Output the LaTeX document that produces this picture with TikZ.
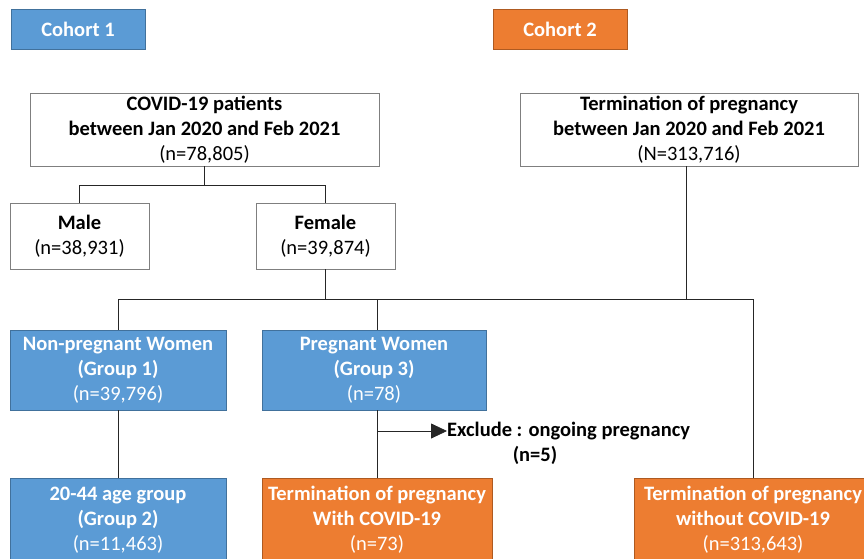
\documentclass[tikz,border=0pt]{standalone}
\usepackage{fontspec}
\setmainfont{Carlito}
\usetikzlibrary{arrows.meta}
\definecolor{cblue}{HTML}{5B9BD5}
\definecolor{cblueb}{HTML}{41719C}
\definecolor{corange}{HTML}{ED7D31}
\definecolor{corangeb}{HTML}{AE5A21}
\definecolor{gborder}{HTML}{7F7F7F}
\begin{document}
\begin{tikzpicture}[x=1pt,y=-1pt,
  box/.style={rectangle,inner sep=0pt,align=center,font=\fontsize{20.5}{25}\selectfont},
  wbox/.style={box,draw=gborder,line width=0.8pt,fill=white,text=black},
  bbox/.style={box,draw=cblueb,line width=0.8pt,fill=cblue,text=white},
  obox/.style={box,draw=corangeb,line width=0.8pt,fill=corange,text=white},
  conn/.style={draw=black!85,line width=0.8pt}]
\useasboundingbox (0,0) rectangle (864,558);
\clip (0,0) rectangle (864,558);
\node[bbox,minimum width=134pt,minimum height=40pt] (c1) at (78,29) {\textbf{Cohort 1}};
\node[obox,minimum width=134pt,minimum height=40pt] (c2) at (560,29) {\textbf{Cohort 2}};
\node[wbox,minimum width=349pt,minimum height=73pt] (covid) at (204.5,129.5) {\textbf{COVID-19 patients}\\\textbf{between Jan 2020 and Feb 2021}\\(n=78,805)};
\node[wbox,minimum width=338pt,minimum height=73pt] (term) at (689,129.5) {\textbf{Termination of pregnancy}\\\textbf{between Jan 2020 and Feb 2021}\\(N=313,716)};
\node[wbox,minimum width=139pt,minimum height=66pt] (male) at (79.5,236) {\textbf{Male}\\(n=38,931)};
\node[wbox,minimum width=139pt,minimum height=66pt] (female) at (325.5,236) {\textbf{Female}\\(n=39,874)};
\node[bbox,minimum width=216pt,minimum height=80pt] (nonpreg) at (118,370) {\textbf{Non-pregnant Women}\\\textbf{(Group 1)}\\(n=39,796)};
\node[bbox,minimum width=224pt,minimum height=80pt] (preg) at (374,370) {\textbf{Pregnant Women}\\\textbf{(Group 3)}\\(n=78)};
\node[bbox,minimum width=216pt,minimum height=84pt] (g2) at (118,520) {\textbf{20-44 age group}\\\textbf{(Group 2)}\\(n=11,463)};
\node[obox,minimum width=230pt,minimum height=84pt] (withc) at (377,520) {\textbf{Termination of pregnancy}\\\textbf{With COVID-19}\\(n=73)};
\node[obox,minimum width=238pt,minimum height=84pt] (without) at (753,520) {\textbf{Termination of pregnancy}\\\textbf{without COVID-19}\\(n=313,643)};
\node[anchor=west,inner sep=0pt,font=\fontsize{20.5}{25}\selectfont\bfseries] (excl) at (447,431) {Exclude : ongoing pregnancy};
\node[inner sep=0pt,font=\fontsize{20.5}{25}\selectfont\bfseries] (n5) at (535,455) {(n=5)};
% connectors
\draw[conn] (covid.south) -- ++(0,19) -| (male.north);
\draw[conn] (covid.south) ++(0,19) -| (female.north);
\draw[conn] (female.south) -- ++(0,30) coordinate (hj);
\draw[conn] (nonpreg.north) |- (hj) -| (without.north);
\draw[conn] (hj) -| (withc.north |- preg.north);
\coordinate (ts) at ([xshift=-3pt]term.south);
\draw[conn] (ts) -- (ts |- hj);
\draw[conn] (nonpreg.south) -- (g2.north);
\draw[conn] (withc.north |- preg.south) -- (withc.north);
\coordinate (ex) at (withc.north |- excl.west);
\draw[conn,-{Triangle[length=16pt,width=15pt]}] (ex) -- (excl.west);
\end{tikzpicture}
\end{document}
